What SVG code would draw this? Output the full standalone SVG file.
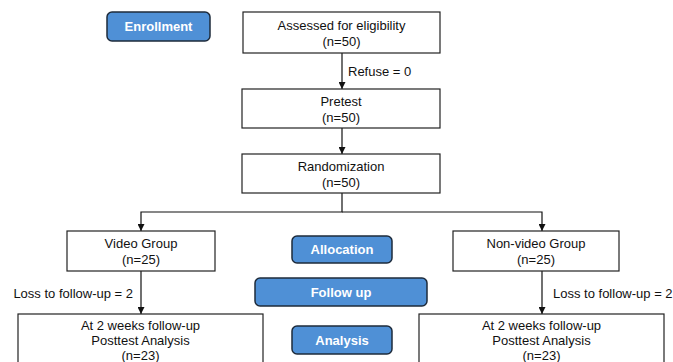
<svg xmlns="http://www.w3.org/2000/svg" width="673" height="362" viewBox="0 0 673 362">
<style>
.box{fill:#fff;stroke:#222;stroke-width:1.2}
.btn{fill:#4f90d6;stroke:#1e2b3b;stroke-width:1.5}
.t{font-family:"Liberation Sans",Arial,sans-serif;font-size:13px;fill:#111;text-anchor:middle}
.bt{font-family:"Liberation Sans",Arial,sans-serif;font-size:13px;font-weight:bold;fill:#fff;text-anchor:middle}
.lbl{font-family:"Liberation Sans",Arial,sans-serif;font-size:13px;fill:#111}
.c{fill:none;stroke:#111;stroke-width:1.2}
</style>
<defs>
<marker id="ah" viewBox="0 0 10 10" refX="10" refY="5" markerWidth="7" markerHeight="7" markerUnits="userSpaceOnUse" orient="auto">
<path d="M0,0 L10,5 L0,10 Z" fill="#111"/>
</marker>
</defs>
<rect width="673" height="362" fill="#fff"/>
<g id="connectors">
<line class="c" x1="342" y1="53" x2="342" y2="89" marker-end="url(#ah)"/>
<text class="lbl" x="348" y="76">Refuse = 0</text>
<line class="c" x1="342" y1="128" x2="342" y2="154" marker-end="url(#ah)"/>
<polyline class="c" points="342,193 342,212 141,212 141,231" marker-end="url(#ah)"/>
<polyline class="c" points="342,212 542,212 542,231" marker-end="url(#ah)"/>
<line class="c" x1="141" y1="271" x2="141" y2="314" marker-end="url(#ah)"/>
<text class="lbl" x="133" y="298" text-anchor="end">Loss to follow-up = 2</text>
<line class="c" x1="542" y1="271" x2="542" y2="314" marker-end="url(#ah)"/>
<text class="lbl" x="553" y="298">Loss to follow-up = 2</text>
</g>
<g id="enrollment">
<rect class="btn" x="107" y="12" width="103" height="29" rx="5"/>
<text class="bt" x="158.5" y="31">Enrollment</text>
</g>
<g id="assessed">
<rect class="box" x="243" y="12" width="197" height="41"/>
<text class="t" x="341.5" y="30">Assessed for eligibility</text>
<text class="t" x="341.5" y="46">(n=50)</text>
</g>
<g id="pretest">
<rect class="box" x="242" y="89" width="198" height="39"/>
<text class="t" x="341" y="106">Pretest</text>
<text class="t" x="341" y="122">(n=50)</text>
</g>
<g id="randomization">
<rect class="box" x="242" y="154" width="198" height="39"/>
<text class="t" x="341" y="171">Randomization</text>
<text class="t" x="341" y="187">(n=50)</text>
</g>
<g id="video">
<rect class="box" x="67" y="231" width="148" height="40"/>
<text class="t" x="141" y="248">Video Group</text>
<text class="t" x="141" y="264">(n=25)</text>
</g>
<g id="nonvideo">
<rect class="box" x="453" y="231" width="166" height="40"/>
<text class="t" x="536" y="248">Non-video Group</text>
<text class="t" x="536" y="264">(n=25)</text>
</g>
<g id="allocation">
<rect class="btn" x="292" y="236" width="100" height="27" rx="5"/>
<text class="bt" x="342" y="254">Allocation</text>
</g>
<g id="followup">
<rect class="btn" x="255" y="278" width="172" height="28" rx="5"/>
<text class="bt" x="341" y="297">Follow up</text>
</g>
<g id="analysis">
<rect class="btn" x="292" y="326" width="100" height="28" rx="5"/>
<text class="bt" x="342" y="345">Analysis</text>
</g>
<g id="video-analysis">
<rect class="box" x="18" y="314" width="245" height="60"/>
<text class="t" x="140.5" y="330">At 2 weeks follow-up</text>
<text class="t" x="140.5" y="345">Posttest Analysis</text>
<text class="t" x="140.5" y="360">(n=23)</text>
</g>
<g id="nonvideo-analysis">
<rect class="box" x="419" y="314" width="245" height="60"/>
<text class="t" x="541.5" y="330">At 2 weeks follow-up</text>
<text class="t" x="541.5" y="345">Posttest Analysis</text>
<text class="t" x="541.5" y="360">(n=23)</text>
</g>
</svg>
